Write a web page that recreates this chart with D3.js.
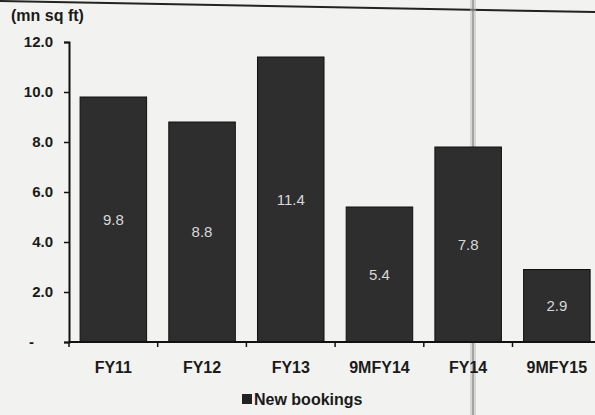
<!DOCTYPE html>
<html lang="en">
<head>
<meta charset="utf-8">
<title>new bookings</title>
<script src="https://cdn.jsdelivr.net/npm/d3@7"></script>
<style>
    body { margin: 0; background: #f2f2f0; }
    svg { display: block; }
    .lbl { font-family: "Liberation Sans", Arial, sans-serif; font-weight: bold; font-size: 16px; fill: #1a1a1a; }
    .val { font-family: "Liberation Sans", Arial, sans-serif; font-size: 15px; fill: #d8d8d8; }
</style>
</head>
<body>
<div id="chart"></div>
<script>
    var categories = ['FY11', 'FY12', 'FY13', '9MFY14', 'FY14', '9MFY15'];
    var bookings = [9.8, 8.8, 11.4, 5.4, 7.8, 2.9];
    var yTicks = [0, 2, 4, 6, 8, 10, 12];
    var yTickLabels = ['-', '2.0', '4.0', '6.0', '8.0', '10.0', '12.0'];

    var width = 595, height = 415;
    var plotLeft = 69, plotTop = 42, plotBottom = 342;

    var svg = d3.select('#chart').append('svg')
        .attr('width', width)
        .attr('height', height);

    svg.append('rect').attr('width', width).attr('height', height).attr('fill', '#f2f2f0');

    // frame line at top of the scanned page
    svg.append('line')
        .attr('x1', 0).attr('x2', width).attr('y1', 1).attr('y2', 12)
        .attr('stroke', '#222').attr('stroke-width', 2);
    // faint scan line
    svg.append('line')
        .attr('x1', 473).attr('x2', 473).attr('y1', 0).attr('y2', height)
        .attr('stroke', '#bbb').attr('stroke-width', 6).attr('opacity', 0.5);
    svg.append('line')
        .attr('x1', 473).attr('x2', 473).attr('y1', 0).attr('y2', height)
        .attr('stroke', '#777').attr('stroke-width', 1.5).attr('opacity', 0.7);

    var x = d3.scaleBand()
        .domain(categories)
        .range([plotLeft, plotLeft + 6 * 88.7])
        .paddingInner(0.25)
        .paddingOuter(0.125);

    var y = d3.scaleLinear()
        .domain([0, 12])
        .range([plotBottom, plotTop]);

    svg.selectAll('rect.bar').data(bookings).enter()
        .append('rect')
        .attr('class', 'bar')
        .attr('x', (d, i) => x(categories[i]))
        .attr('y', d => y(d))
        .attr('width', x.bandwidth())
        .attr('height', d => y(0) - y(d))
        .attr('fill', '#2e2e2e')
        .attr('stroke', '#111')
        .attr('stroke-width', 1);

    svg.selectAll('text.val').data(bookings).enter()
        .append('text')
        .attr('class', 'val')
        .attr('x', (d, i) => x(categories[i]) + x.bandwidth() / 2)
        .attr('y', d => (y(d) + y(0)) / 2 + 5)
        .attr('text-anchor', 'middle')
        .text(d => d.toFixed(1));

    // y axis
    var yAxis = d3.axisLeft(y)
        .tickValues(yTicks)
        .tickSize(5)
        .tickPadding(11)
        .tickFormat((d, i) => yTickLabels[i]);
    var gy = svg.append('g')
        .attr('transform', `translate(${plotLeft},0)`)
        .call(yAxis);
    gy.select('.domain').attr('stroke', '#111').attr('stroke-width', 2);
    gy.selectAll('.tick line').attr('stroke', '#111').attr('stroke-width', 1.5);
    gy.selectAll('.tick text').attr('class', 'lbl').attr('fill', null).style('font-size', '15px');
    gy.selectAll('.tick text').filter(d => d === 0).attr('dx', -19);

    // x axis: line along baseline with ticks between categories
    svg.append('line')
        .attr('x1', plotLeft).attr('x2', width)
        .attr('y1', y(0)).attr('y2', y(0))
        .attr('stroke', '#111').attr('stroke-width', 2);
    var gap = x.step() * x.paddingInner() / 2;
    svg.selectAll('line.xt').data(categories).enter()
        .append('line')
        .attr('class', 'xt')
        .attr('x1', d => x(d) + x.bandwidth() + gap)
        .attr('x2', d => x(d) + x.bandwidth() + gap)
        .attr('y1', y(0)).attr('y2', y(0) + 5)
        .attr('stroke', '#111').attr('stroke-width', 1.5);
    svg.append('line')
        .attr('x1', plotLeft).attr('x2', plotLeft)
        .attr('y1', y(0)).attr('y2', y(0) + 5)
        .attr('stroke', '#111').attr('stroke-width', 1.5);

    svg.selectAll('text.xl').data(categories).enter()
        .append('text')
        .attr('class', 'lbl')
        .attr('x', d => x(d) + x.bandwidth() / 2)
        .attr('y', y(0) + 31)
        .attr('text-anchor', 'middle')
        .text(d => d);

    svg.append('text')
        .attr('class', 'lbl')
        .attr('x', 11).attr('y', 21)
        .text('(mn sq ft)');

    // legend
    var lg = svg.append('g').attr('transform', 'translate(242,405)');
    lg.append('rect').attr('x', 0).attr('y', -11).attr('width', 10).attr('height', 10).attr('fill', '#222');
    lg.append('text').attr('class', 'lbl').attr('x', 12).attr('y', 0).text('New bookings');
</script>
</body>
</html>
